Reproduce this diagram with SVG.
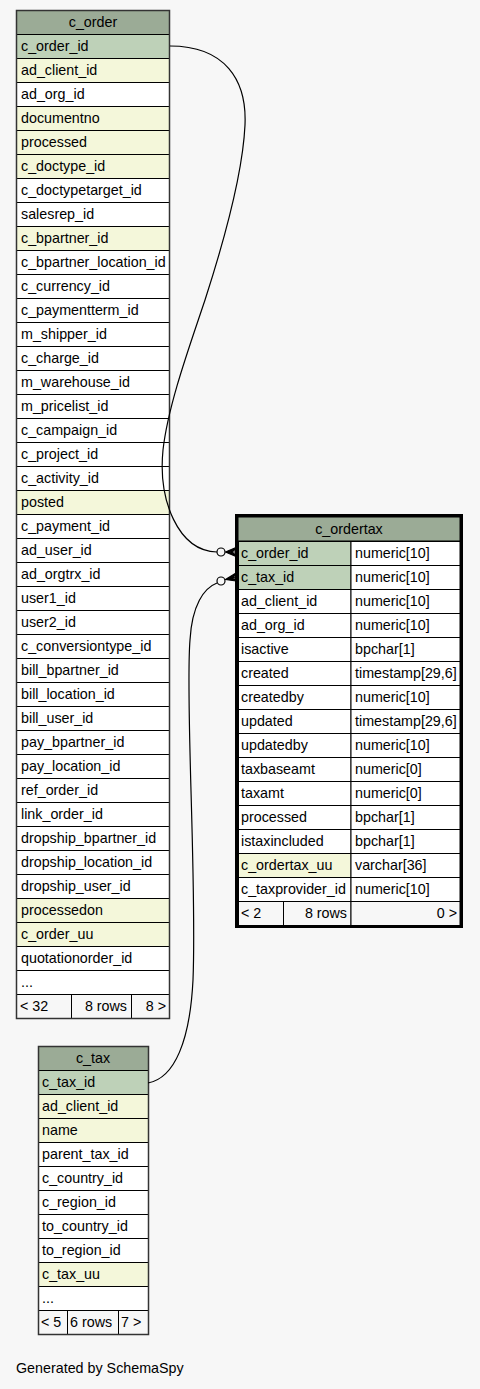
<svg xmlns="http://www.w3.org/2000/svg" width="480" height="1389" viewBox="0 0 480 1389">
<style>
text{font-family:"Liberation Sans",Arial,sans-serif;font-size:14.3px;fill:#000}
.h{fill:#9bab96;stroke:#000;stroke-width:1}
.g{fill:#bed1b8;stroke:#000;stroke-width:1}
.y{fill:#f4f7da;stroke:#000;stroke-width:1}
.w{fill:#ffffff;stroke:#000;stroke-width:1}
.f{fill:#f7f7f7;stroke:#000;stroke-width:1}
.c{text-anchor:middle}
.e{text-anchor:end}
.edge{fill:none;stroke:#000;stroke-width:1.2}
.dot{fill:#f7f7f7;stroke:#000;stroke-width:1.2}
.crow{fill:#000;stroke:#000;stroke-width:1.2;stroke-linejoin:round}
.frame{fill:none;stroke:#333;stroke-width:1.5}
</style>
<rect width="480" height="1389" fill="#f7f7f7"/>
<g id="c_order">
<rect class="h" x="16.5" y="10.5" width="153" height="24"/><text class="c" x="93" y="27">c_order</text>
<rect class="g" x="16.5" y="34.5" width="153" height="24"/><text x="21" y="51">c_order_id</text>
<rect class="y" x="16.5" y="58.5" width="153" height="24"/><text x="21" y="75">ad_client_id</text>
<rect class="w" x="16.5" y="82.5" width="153" height="24"/><text x="21" y="99">ad_org_id</text>
<rect class="y" x="16.5" y="106.5" width="153" height="24"/><text x="21" y="123">documentno</text>
<rect class="y" x="16.5" y="130.5" width="153" height="24"/><text x="21" y="147">processed</text>
<rect class="y" x="16.5" y="154.5" width="153" height="24"/><text x="21" y="171">c_doctype_id</text>
<rect class="w" x="16.5" y="178.5" width="153" height="24"/><text x="21" y="195">c_doctypetarget_id</text>
<rect class="w" x="16.5" y="202.5" width="153" height="24"/><text x="21" y="219">salesrep_id</text>
<rect class="y" x="16.5" y="226.5" width="153" height="24"/><text x="21" y="243">c_bpartner_id</text>
<rect class="w" x="16.5" y="250.5" width="153" height="24"/><text x="21" y="267">c_bpartner_location_id</text>
<rect class="w" x="16.5" y="274.5" width="153" height="24"/><text x="21" y="291">c_currency_id</text>
<rect class="w" x="16.5" y="298.5" width="153" height="24"/><text x="21" y="315">c_paymentterm_id</text>
<rect class="w" x="16.5" y="322.5" width="153" height="24"/><text x="21" y="339">m_shipper_id</text>
<rect class="w" x="16.5" y="346.5" width="153" height="24"/><text x="21" y="363">c_charge_id</text>
<rect class="w" x="16.5" y="370.5" width="153" height="24"/><text x="21" y="387">m_warehouse_id</text>
<rect class="w" x="16.5" y="394.5" width="153" height="24"/><text x="21" y="411">m_pricelist_id</text>
<rect class="w" x="16.5" y="418.5" width="153" height="24"/><text x="21" y="435">c_campaign_id</text>
<rect class="w" x="16.5" y="442.5" width="153" height="24"/><text x="21" y="459">c_project_id</text>
<rect class="w" x="16.5" y="466.5" width="153" height="24"/><text x="21" y="483">c_activity_id</text>
<rect class="y" x="16.5" y="490.5" width="153" height="24"/><text x="21" y="507">posted</text>
<rect class="w" x="16.5" y="514.5" width="153" height="24"/><text x="21" y="531">c_payment_id</text>
<rect class="w" x="16.5" y="538.5" width="153" height="24"/><text x="21" y="555">ad_user_id</text>
<rect class="w" x="16.5" y="562.5" width="153" height="24"/><text x="21" y="579">ad_orgtrx_id</text>
<rect class="w" x="16.5" y="586.5" width="153" height="24"/><text x="21" y="603">user1_id</text>
<rect class="w" x="16.5" y="610.5" width="153" height="24"/><text x="21" y="627">user2_id</text>
<rect class="w" x="16.5" y="634.5" width="153" height="24"/><text x="21" y="651">c_conversiontype_id</text>
<rect class="w" x="16.5" y="658.5" width="153" height="24"/><text x="21" y="675">bill_bpartner_id</text>
<rect class="w" x="16.5" y="682.5" width="153" height="24"/><text x="21" y="699">bill_location_id</text>
<rect class="w" x="16.5" y="706.5" width="153" height="24"/><text x="21" y="723">bill_user_id</text>
<rect class="w" x="16.5" y="730.5" width="153" height="24"/><text x="21" y="747">pay_bpartner_id</text>
<rect class="w" x="16.5" y="754.5" width="153" height="24"/><text x="21" y="771">pay_location_id</text>
<rect class="w" x="16.5" y="778.5" width="153" height="24"/><text x="21" y="795">ref_order_id</text>
<rect class="w" x="16.5" y="802.5" width="153" height="24"/><text x="21" y="819">link_order_id</text>
<rect class="w" x="16.5" y="826.5" width="153" height="24"/><text x="21" y="843">dropship_bpartner_id</text>
<rect class="w" x="16.5" y="850.5" width="153" height="24"/><text x="21" y="867">dropship_location_id</text>
<rect class="w" x="16.5" y="874.5" width="153" height="24"/><text x="21" y="891">dropship_user_id</text>
<rect class="y" x="16.5" y="898.5" width="153" height="24"/><text x="21" y="915">processedon</text>
<rect class="y" x="16.5" y="922.5" width="153" height="24"/><text x="21" y="939">c_order_uu</text>
<rect class="w" x="16.5" y="946.5" width="153" height="24"/><text x="21" y="963">quotationorder_id</text>
<rect class="w" x="16.5" y="970.5" width="153" height="24"/><text x="21" y="987">...</text>
<rect class="f" x="16.5" y="994.5" width="55" height="24"/><text x="20" y="1011">&lt; 32</text>
<rect class="f" x="71.5" y="994.5" width="60" height="24"/><text class="e" x="127" y="1011">8 rows</text>
<rect class="f" x="131.5" y="994.5" width="38" height="24"/><text class="e" x="166" y="1011">8 &gt;</text>
<rect class="frame" x="16.5" y="10.5" width="153" height="1008"/>
</g>
<g id="c_ordertax">
<rect class="h" x="238" y="517" width="222" height="24"/><text class="c" x="349" y="534">c_ordertax</text>
<rect class="g" x="238.5" y="541.5" width="112.5" height="24"/><rect class="w" x="351" y="541.5" width="109" height="24"/><text x="241" y="558">c_order_id</text><text x="355" y="558">numeric[10]</text>
<rect class="g" x="238.5" y="565.5" width="112.5" height="24"/><rect class="w" x="351" y="565.5" width="109" height="24"/><text x="241" y="582">c_tax_id</text><text x="355" y="582">numeric[10]</text>
<rect class="w" x="238.5" y="589.5" width="112.5" height="24"/><rect class="w" x="351" y="589.5" width="109" height="24"/><text x="241" y="606">ad_client_id</text><text x="355" y="606">numeric[10]</text>
<rect class="w" x="238.5" y="613.5" width="112.5" height="24"/><rect class="w" x="351" y="613.5" width="109" height="24"/><text x="241" y="630">ad_org_id</text><text x="355" y="630">numeric[10]</text>
<rect class="w" x="238.5" y="637.5" width="112.5" height="24"/><rect class="w" x="351" y="637.5" width="109" height="24"/><text x="241" y="654">isactive</text><text x="355" y="654">bpchar[1]</text>
<rect class="w" x="238.5" y="661.5" width="112.5" height="24"/><rect class="w" x="351" y="661.5" width="109" height="24"/><text x="241" y="678">created</text><text x="355" y="678">timestamp[29,6]</text>
<rect class="w" x="238.5" y="685.5" width="112.5" height="24"/><rect class="w" x="351" y="685.5" width="109" height="24"/><text x="241" y="702">createdby</text><text x="355" y="702">numeric[10]</text>
<rect class="w" x="238.5" y="709.5" width="112.5" height="24"/><rect class="w" x="351" y="709.5" width="109" height="24"/><text x="241" y="726">updated</text><text x="355" y="726">timestamp[29,6]</text>
<rect class="w" x="238.5" y="733.5" width="112.5" height="24"/><rect class="w" x="351" y="733.5" width="109" height="24"/><text x="241" y="750">updatedby</text><text x="355" y="750">numeric[10]</text>
<rect class="w" x="238.5" y="757.5" width="112.5" height="24"/><rect class="w" x="351" y="757.5" width="109" height="24"/><text x="241" y="774">taxbaseamt</text><text x="355" y="774">numeric[0]</text>
<rect class="w" x="238.5" y="781.5" width="112.5" height="24"/><rect class="w" x="351" y="781.5" width="109" height="24"/><text x="241" y="798">taxamt</text><text x="355" y="798">numeric[0]</text>
<rect class="w" x="238.5" y="805.5" width="112.5" height="24"/><rect class="w" x="351" y="805.5" width="109" height="24"/><text x="241" y="822">processed</text><text x="355" y="822">bpchar[1]</text>
<rect class="w" x="238.5" y="829.5" width="112.5" height="24"/><rect class="w" x="351" y="829.5" width="109" height="24"/><text x="241" y="846">istaxincluded</text><text x="355" y="846">bpchar[1]</text>
<rect class="y" x="238.5" y="853.5" width="112.5" height="24"/><rect class="w" x="351" y="853.5" width="109" height="24"/><text x="241" y="870">c_ordertax_uu</text><text x="355" y="870">varchar[36]</text>
<rect class="w" x="238.5" y="877.5" width="112.5" height="24"/><rect class="w" x="351" y="877.5" width="109" height="24"/><text x="241" y="894">c_taxprovider_id</text><text x="355" y="894">numeric[10]</text>
<rect class="f" x="238.5" y="901.5" width="45" height="24"/><text x="241" y="918">&lt; 2</text>
<rect class="f" x="283.5" y="901.5" width="67.5" height="24"/><text class="e" x="347" y="918">8 rows</text>
<rect class="f" x="351" y="901.5" width="109" height="24"/><text class="e" x="457" y="918">0 &gt;</text>
<rect x="236.5" y="515.5" width="225" height="411" fill="none" stroke="#000" stroke-width="3"/>
</g>
<g id="c_tax">
<rect class="h" x="38.5" y="1046.5" width="110" height="24"/><text class="c" x="93" y="1063">c_tax</text>
<rect class="g" x="38.5" y="1070.5" width="110" height="24"/><text x="42" y="1087">c_tax_id</text>
<rect class="y" x="38.5" y="1094.5" width="110" height="24"/><text x="42" y="1111">ad_client_id</text>
<rect class="y" x="38.5" y="1118.5" width="110" height="24"/><text x="42" y="1135">name</text>
<rect class="w" x="38.5" y="1142.5" width="110" height="24"/><text x="42" y="1159">parent_tax_id</text>
<rect class="w" x="38.5" y="1166.5" width="110" height="24"/><text x="42" y="1183">c_country_id</text>
<rect class="w" x="38.5" y="1190.5" width="110" height="24"/><text x="42" y="1207">c_region_id</text>
<rect class="w" x="38.5" y="1214.5" width="110" height="24"/><text x="42" y="1231">to_country_id</text>
<rect class="w" x="38.5" y="1238.5" width="110" height="24"/><text x="42" y="1255">to_region_id</text>
<rect class="y" x="38.5" y="1262.5" width="110" height="24"/><text x="42" y="1279">c_tax_uu</text>
<rect class="w" x="38.5" y="1286.5" width="110" height="24"/><text x="42" y="1303">...</text>
<rect class="f" x="38.5" y="1310.5" width="29" height="24"/><text x="41" y="1327">&lt; 5</text>
<rect class="f" x="67.5" y="1310.5" width="51" height="24"/><text x="70" y="1327">6 rows</text>
<rect class="f" x="118.5" y="1310.5" width="30" height="24"/><text x="121" y="1327">7 &gt;</text>
<rect class="frame" x="38.5" y="1046.5" width="110" height="288"/>
</g>
<g id="connectors">
<path class="edge" d="M170,46 C225,46 247,80 245,125 C243,168 226,235 205,300 C190,345 168,405 163,450 C158,500 178,551 217,552"/>
<circle class="dot" cx="221" cy="552" r="4"/>
<path class="crow" d="M225.5,552 L236,547.5 L236,549.5 L230,552 L236,554.5 L236,556.5 Z M225.5,552 L236,552"/>
<path class="edge" d="M148,1083 C175,1078 190,1040 193,980 C197,880 185,700 190,640 C192,605 204,588 217,583"/>
<circle class="dot" cx="221" cy="581" r="4"/>
<path class="crow" d="M225.5,579.5 L236,573 L236,575 L230,578.5 L236,579 L236,581 Z M225.5,579.5 L236,577"/>
</g>
<text x="16" y="1373">Generated by SchemaSpy</text>
</svg>
